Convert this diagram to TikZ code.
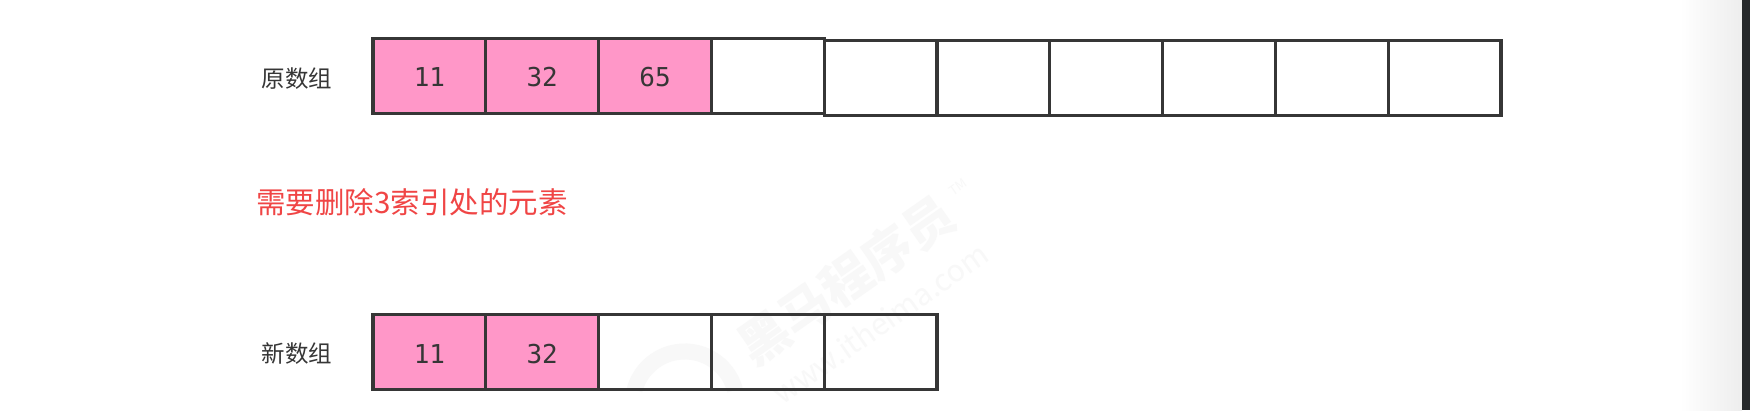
\documentclass[tikz,border=0pt]{standalone}
\usepackage{fontspec}
\setmainfont{DejaVu Sans Mono}
\newfontfamily\cjk{Noto Sans CJK SC}
\definecolor{cellpink}{HTML}{FF97C8}
\definecolor{celledge}{HTML}{363636}
\definecolor{notered}{HTML}{F04545}
\definecolor{markgray}{HTML}{F8F8F8}
\definecolor{barblack}{HTML}{25282A}
\tikzset{
  cellbox/.style={draw=celledge,line width=3.2pt,minimum width=112.8pt,minimum height=75pt,
    inner sep=0pt,outer sep=0pt,text=celledge,text height=22pt,text depth=0pt,
    font=\fontsize{26}{26}\selectfont},
  fullcell/.style={cellbox,fill=cellpink},
  rowname/.style={text=celledge,font=\cjk\fontsize{23.5}{24}\selectfont},
  watermark/.style={text=markgray,rotate=35}
}
\begin{document}
\begin{tikzpicture}[x=1pt,y=1pt]
  \useasboundingbox (0,0) rectangle (1750,410);
  \fill[white] (0,0) rectangle (1750,410);
  \shade[left color=white,right color=black!7] (1680,0) rectangle (1742,410);
  \fill[barblack] (1742,0) rectangle (1750,410);
  % watermark
  \draw[markgray,line width=16pt] (735,20) arc (15:165:52);
  \node[watermark,font=\cjk\bfseries\fontsize{50}{50}\selectfont] (markname) at (846,130) {黑马程序员};
  \node[watermark,font=\cjk\fontsize{30}{30}\selectfont] (markurl) at (880,87) {www.itheima.com};
  \node[watermark,font=\cjk\fontsize{13}{13}\selectfont] (marktm) at (958,223) {TM};
  % old array
  \foreach \i/\t in {1/11,2/32,3/65} {
    \node[fullcell] (old\i) at (429.4+112.8*\i-112.8,334) {\t};
  }
  \node[cellbox] (old4) at (767.8,334) {};
  \foreach \i in {5,6,...,10} {
    \node[cellbox] (old\i) at (429.4+112.8*\i-112.8,332) {};
  }
  \node[rowname] (oldname) at (297,331) {原数组};
  % message
  \node[font=\cjk\fontsize{29.5}{30}\selectfont,text=notered] (delnote) at (412,208) {需要删除3索引处的元素};
  % new array
  \foreach \i/\t in {1/11,2/32} {
    \node[fullcell] (new\i) at (429.4+112.8*\i-112.8,58) {\t};
  }
  \foreach \i in {3,4,5} {
    \node[cellbox] (new\i) at (429.4+112.8*\i-112.8,58) {};
  }
  \node[rowname] (newname) at (297,56) {新数组};
\end{tikzpicture}
\end{document}
